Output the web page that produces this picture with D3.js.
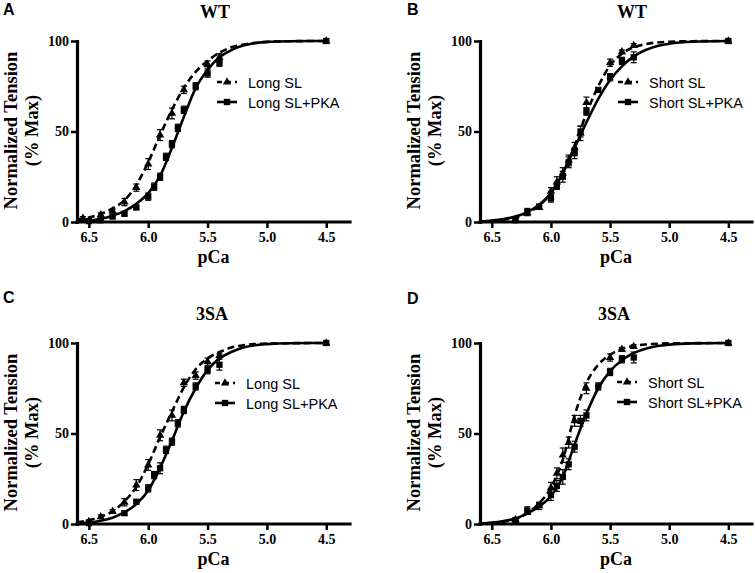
<!DOCTYPE html>
<html>
<head>
<meta charset="utf-8">
<script src="https://cdn.jsdelivr.net/npm/d3@7"></script>
<style>
  body { margin: 0; background: #fff; }
  svg text { fill: #000; }
  .serif { font-family: "Liberation Serif", "Times New Roman", serif; font-weight: bold; }
  .sans { font-family: "Liberation Sans", Arial, sans-serif; }
</style>
</head>
<body>
<svg id="chart" width="755" height="573"></svg>
<script>
// ---- data ----
var xTicks = [6.5, 6.0, 5.5, 5.0, 4.5];
var yTicks = [0, 50, 100];

// pCa grid on which the fitted curves were read
var fitPCa = [6.6, 6.5, 6.4, 6.3, 6.2, 6.1, 6.0, 5.9, 5.8, 5.7, 5.6, 5.5, 5.4, 5.3, 5.2, 5.1, 5.0, 4.8, 4.5];

// panel A: WT, long SL
var fitA_long = [1.5, 2.5, 4.5, 7.5, 12, 20.5, 33, 48, 62, 74, 83, 89, 93.5, 96.5, 98, 99, 99.5, 99.9, 100];
var fitA_pka  = [0.3, 0.8, 1.8, 3.5, 6, 10, 16, 25.5, 41, 58, 74, 84, 91, 95, 97.5, 98.8, 99.5, 99.9, 100];
var ptsA_long_pCa = [6.55, 6.4, 6.3, 6.2, 6.1, 6.0, 5.9, 5.8, 5.7, 5.5, 5.4, 4.5];
var ptsA_long     = [2, 4, 6, 11, 19, 32, 48, 60, 73, 87, 91, 100];
var errA_long     = [1, 1, 1, 2, 2, 3, 3, 3, 2, 2, 2, 0];
var ptsA_pka_pCa  = [6.5, 6.4, 6.3, 6.2, 6.1, 6.0, 5.95, 5.9, 5.85, 5.8, 5.75, 5.7, 5.6, 5.5, 5.4, 4.5];
var ptsA_pka      = [0.5, 1, 3, 4.5, 8, 14, 19.5, 25, 36, 43, 52, 62, 75, 82, 88, 100];
var errA_pka      = [0, 0, 1, 1, 1, 2, 2, 2, 2, 2, 2, 2, 2, 2, 2, 0];

// panel B: WT, short SL
var fitB_short = [0.2, 0.5, 1.2, 2.5, 5, 9, 16, 27, 42, 60, 75, 86.5, 93, 96.5, 98.3, 99.2, 99.6, 99.9, 100];
var fitB_pka   = [0.3, 0.8, 1.6, 3, 5.5, 9.5, 16, 27, 41, 55, 68, 78.5, 86, 91.5, 95, 97.3, 98.5, 99.6, 100];
var ptsB_short_pCa = [6.3, 6.2, 6.1, 6.0, 5.95, 5.9, 5.85, 5.8, 5.75, 5.7, 5.5, 5.4, 5.3, 4.5];
var ptsB_short     = [1.5, 5, 8, 17, 22, 27, 34, 41, 49, 66, 88, 94, 97.5, 100];
var errB_short     = [1, 1, 1, 2, 3, 3, 3, 3, 4, 3, 2, 1, 1, 0];
var ptsB_pka_pCa   = [6.3, 6.2, 6.1, 6.0, 5.95, 5.9, 5.85, 5.8, 5.75, 5.7, 5.6, 5.5, 5.4, 5.3, 4.5];
var ptsB_pka       = [1, 5.5, 8.5, 13, 20, 25, 33, 38, 50, 61, 73, 80, 89, 91, 100];
var errB_pka       = [1, 2, 1, 2, 2, 3, 3, 3, 3, 2, 1, 2, 2, 3, 0];

// panel C: 3SA, long SL
var fitC_long = [1, 2, 4, 7, 12.5, 20.5, 33, 48, 62, 75.5, 85.5, 91.5, 95, 97.5, 98.8, 99.4, 99.7, 99.9, 100];
var fitC_pka  = [0.3, 0.8, 1.8, 3.5, 6.5, 11, 18.5, 31, 46, 62, 75, 85, 91.5, 95, 97.5, 98.8, 99.4, 99.9, 100];
var ptsC_long_pCa = [6.5, 6.4, 6.3, 6.2, 6.1, 6.0, 5.9, 5.8, 5.7, 5.6, 5.5, 5.4, 4.5];
var ptsC_long     = [1.3, 4, 7, 12, 21.5, 32.6, 49, 60, 78, 82, 89.7, 93, 100];
var errC_long     = [1, 1, 1, 2, 3, 3, 3, 3, 2, 2, 2, 1, 0];
var ptsC_pka_pCa  = [6.5, 6.2, 6.1, 6.0, 5.95, 5.9, 5.85, 5.8, 5.75, 5.7, 5.6, 5.5, 5.4, 4.5];
var ptsC_pka      = [0.5, 6, 12.3, 19.7, 27, 30.8, 41, 45.5, 55.6, 63, 76, 85, 88, 100];
var errC_pka      = [0, 1, 1, 2, 2, 3, 2, 2, 2, 2, 2, 2, 3, 0];

// panel D: 3SA, short SL
var fitD_short = [0.2, 0.5, 1.2, 2.8, 6, 11.5, 20, 35.5, 60, 78, 88, 93.5, 96.8, 98.4, 99.2, 99.6, 99.8, 99.9, 100];
var fitD_pka   = [0.3, 0.8, 1.7, 3, 6, 9.5, 15.5, 26, 44, 61, 75, 84.5, 90.5, 94.5, 96.8, 98.3, 99.1, 99.8, 100];
var ptsD_short_pCa = [6.3, 6.2, 6.1, 6.0, 5.95, 5.9, 5.85, 5.8, 5.7, 5.5, 5.4, 5.3, 4.5];
var ptsD_short     = [2.5, 6.5, 10, 20, 28, 38, 45, 57, 75, 92, 96.5, 98, 100];
var errD_short     = [1, 1, 2, 3, 3, 4, 3, 3, 3, 2, 1, 1, 0];
var ptsD_pka_pCa   = [6.3, 6.2, 6.1, 6.0, 5.95, 5.9, 5.85, 5.8, 5.75, 5.7, 5.6, 5.5, 5.4, 5.3, 4.5];
var ptsD_pka       = [2, 7.5, 10.5, 16, 21, 26, 33, 42.7, 57, 60, 76, 84, 91, 92, 100];
var errD_pka       = [1, 2, 1, 3, 3, 4, 3, 3, 3, 3, 2, 2, 2, 3, 0];

var panelLetters = ["A", "B", "C", "D"];
var panelTitles = ["WT", "WT", "3SA", "3SA"];
var legendDashed = ["Long SL", "Short SL", "Long SL", "Short SL"];
var legendSolid = ["Long SL+PKA", "Short SL+PKA", "Long SL+PKA", "Short SL+PKA"];

// ---- layout ----
var layout = [
    { x0: 77,  x1: 350, yTop: 41,  yBot: 222, letterX: 3,   letterY: 15,  titleX: 215, legX: 217, legY: 82 },
    { x0: 480, x1: 752, yTop: 41,  yBot: 222, letterX: 407, letterY: 15,  titleX: 632, legX: 618, legY: 82 },
    { x0: 77,  x1: 350, yTop: 343, yBot: 524, letterX: 3,   letterY: 303, titleX: 212, legX: 215, legY: 383 },
    { x0: 480, x1: 752, yTop: 343, yBot: 524, letterX: 407, letterY: 304, titleX: 614, legX: 617, legY: 382 }
];

var series = [
    { dashed: [fitA_long, ptsA_long_pCa, ptsA_long, errA_long], solid: [fitA_pka, ptsA_pka_pCa, ptsA_pka, errA_pka] },
    { dashed: [fitB_short, ptsB_short_pCa, ptsB_short, errB_short], solid: [fitB_pka, ptsB_pka_pCa, ptsB_pka, errB_pka] },
    { dashed: [fitC_long, ptsC_long_pCa, ptsC_long, errC_long], solid: [fitC_pka, ptsC_pka_pCa, ptsC_pka, errC_pka] },
    { dashed: [fitD_short, ptsD_short_pCa, ptsD_short, errD_short], solid: [fitD_pka, ptsD_pka_pCa, ptsD_pka, errD_pka] }
];

var svg = d3.select("#chart");
var DASH = "7,4";
var triangle = d3.symbol().type(d3.symbolTriangle).size(30);
var square = d3.symbol().type(d3.symbolSquare).size(40);

layout.forEach(function(L, i) {
    var g = svg.append("g");
    var x = d3.scaleLinear().domain([6.6, 4.3]).range([L.x0, L.x1]);
    var y = d3.scaleLinear().domain([0, 100]).range([L.yBot, L.yTop]);

    // panel letter + title
    g.append("text").attr("class", "sans")
        .attr("x", L.letterX).attr("y", L.letterY)
        .style("font-size", "16px").style("font-weight", "bold")
        .text(panelLetters[i]);
    g.append("text").attr("class", "serif")
        .attr("x", L.titleX).attr("y", L.yTop - 23)
        .attr("text-anchor", "middle").style("font-size", "18px")
        .text(panelTitles[i]);

    // axis labels
    var cy = (L.yTop + L.yBot) / 2 - 1;
    var yl = g.append("text").attr("class", "serif")
        .attr("transform", "translate(" + (L.x0 - 60) + "," + cy + ") rotate(-90)")
        .attr("text-anchor", "middle").style("font-size", "18.5px");
    yl.append("tspan").attr("x", 0).attr("y", 0).text("Normalized Tension");
    yl.append("tspan").attr("x", 0).attr("y", 21).text("(% Max)");
    g.append("text").attr("class", "serif")
        .attr("x", (L.x0 + L.x1) / 2 + 0).attr("y", L.yBot + 41)
        .attr("text-anchor", "middle").style("font-size", "18px")
        .text("pCa");

    // curves
    var line = d3.line()
        .x(function(d) { return x(d[0]); })
        .y(function(d) { return y(d[1]); })
        .curve(d3.curveMonotoneX);

    function drawSeries(s, dashed) {
        var fit = fitPCa.map(function(p, k) { return [p, s[0][k]]; });
        g.append("path").datum(fit)
            .attr("d", line)
            .attr("fill", "none").attr("stroke", "#000")
            .attr("stroke-width", 2.6)
            .attr("stroke-dasharray", dashed ? DASH : null);
        var pts = s[1].map(function(p, k) { return { p: p, v: s[2][k], e: s[3][k] }; });
        var eb = g.append("g").attr("stroke", "#000").attr("stroke-width", 1.2);
        pts.filter(function(d) { return d.e > 0; }).forEach(function(d) {
            var px = x(d.p), t = y(d.v + d.e), b = y(d.v - d.e);
            eb.append("line").attr("x1", px).attr("x2", px).attr("y1", t).attr("y2", b);
            eb.append("line").attr("x1", px - 3).attr("x2", px + 3).attr("y1", t).attr("y2", t);
            eb.append("line").attr("x1", px - 3).attr("x2", px + 3).attr("y1", b).attr("y2", b);
        });
        g.selectAll(null).data(pts).enter().append("path")
            .attr("d", dashed ? triangle : square)
            .attr("transform", function(d) { return "translate(" + x(d.p) + "," + y(d.v) + ")"; })
            .attr("fill", "#000");
    }
    drawSeries(series[i].dashed, true);
    drawSeries(series[i].solid, false);

    // axes
    var xAxis = d3.axisBottom(x).tickValues(xTicks).tickFormat(d3.format(".1f"))
        .tickSize(6).tickSizeOuter(0).tickPadding(4);
    var yAxis = d3.axisLeft(y).tickValues(yTicks).tickSize(6).tickSizeOuter(0).tickPadding(2);

    var gx = g.append("g").attr("transform", "translate(0," + L.yBot + ")").call(xAxis);
    var gy = g.append("g").attr("transform", "translate(" + L.x0 + ",0)").call(yAxis);
    [gx, gy].forEach(function(a) {
        a.select(".domain").attr("stroke-width", 3.2).attr("stroke-linecap", "square");
        a.selectAll(".tick line").attr("stroke-width", 2.5);
        a.selectAll(".tick text").attr("class", "serif").style("font-size", "14px").attr("fill", "#000");
    });
    gx.select(".domain").attr("d", "M" + (L.x0) + ",0H" + L.x1);

    // legend
    var lg = g.append("g").attr("transform", "translate(" + L.legX + "," + L.legY + ")");
    [[legendDashed[i], true], [legendSolid[i], false]].forEach(function(it, k) {
        var row = lg.append("g").attr("transform", "translate(0," + (k * 20) + ")");
        row.append("line").attr("x1", 0).attr("x2", 20).attr("y1", 0).attr("y2", 0)
            .attr("stroke", "#000").attr("stroke-width", 2.6)
            .attr("stroke-dasharray", it[1] ? "5,4" : null);
        row.append("path").attr("d", it[1] ? triangle : square)
            .attr("transform", "translate(10,0)").attr("fill", "#000");
        row.append("text").attr("class", "sans")
            .attr("x", 31).attr("y", 5.5).style("font-size", "14.5px")
            .text(it[0]);
    });
});
</script>
</body>
</html>
